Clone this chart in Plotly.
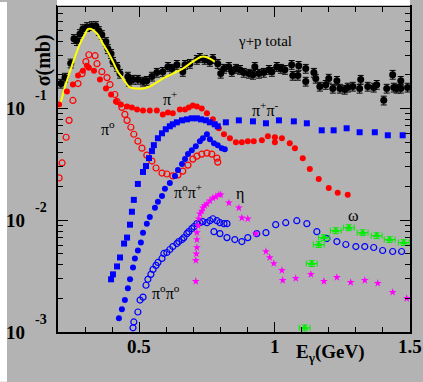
import plotly.graph_objects as go

# ---------------- data (E in GeV, sigma in mb) ----------------
tot_x = [0.211,0.226,0.247,0.259,0.270,0.281,0.292,0.307,0.325,0.340,0.351,0.362,0.377,0.384,0.396,0.403,
         0.418,0.429,0.458,0.462,0.477,0.495,0.514,0.528,0.547,0.565,0.587,0.606,0.621,0.639,0.661,0.669,
         0.687,0.713,0.724,0.742,0.761,0.772,0.790,0.801,0.813,0.831,0.842,0.857,0.872,0.886,0.905,0.920,
         0.927,0.942,0.960,0.979,0.990,1.008,1.023,1.038,1.063,1.067,1.086,1.089,1.115,1.115,1.145,1.152,
         1.167,1.189,1.200,1.215,1.230,1.241,1.259,1.270,1.289,1.314,1.318,1.344,1.366,1.377,1.403,1.414,
         1.436,1.440,1.451,1.466,1.466,1.491]
tot_y = [0.167,0.189,0.253,0.419,0.402,0.464,0.514,0.536,0.547,0.547,0.494,0.455,0.394,0.341,0.308,0.262,
         0.236,0.205,0.193,0.174,0.181,0.181,0.174,0.177,0.193,0.209,0.213,0.236,0.227,0.246,0.213,0.246,
         0.251,0.273,0.284,0.273,0.262,0.278,0.251,0.205,0.227,0.236,0.213,0.227,0.222,0.209,0.205,0.2005,
         0.236,0.205,0.209,0.222,0.213,0.236,0.227,0.222,0.246,0.1965,0.1965,0.241,0.227,0.174,0.209,0.185,
         0.157,0.163,0.185,0.1506,0.177,0.1506,0.1475,0.154,0.157,0.1506,0.181,0.157,0.154,0.163,0.118,0.1506,
         0.2005,0.154,0.1506,0.177,0.1506,0.154]

fit_x = [0.204,0.214,0.226,0.244,0.263,0.281,0.300,0.311,0.322,0.333,0.348,0.366,0.384,0.403,0.421,0.440,
         0.466,0.492,0.514,0.539,0.558,0.595,0.624,0.661,0.698,0.731,0.754,0.779]
fit_y = [0.100,0.1227,0.157,0.213,0.290,0.378,0.464,0.514,0.514,0.494,0.455,0.378,0.321,0.262,0.213,0.185,
         0.154,0.1506,0.1506,0.157,0.167,0.189,0.205,0.227,0.262,0.290,0.284,0.262]

pip_x = [0.204,0.233,0.255,0.274,0.292,0.307,0.314,0.333,0.355,0.377,0.396,0.414,0.432,0.455,0.473,0.492,
         0.514,0.539,0.565,0.587,0.606,0.624,0.650,0.669,0.683,0.698,0.713,0.731,0.750,0.772,0.794,0.813,
         0.835,0.857,0.879,0.901,0.923,0.953,0.975,1.001,1.001,1.027,1.056,1.075,1.104,1.130,1.163,1.200,
         1.233,1.270]
pip_y = [0.1086,0.1416,0.1634,0.1965,0.2177,0.241,0.2314,0.2177,0.181,0.1506,0.1332,0.1154,0.1086,0.1042,
         0.1021,0.098,0.096,0.096,0.096,0.0884,0.0921,0.0903,0.098,0.098,0.1021,0.1064,0.1042,0.100,0.0903,
         0.0798,0.0664,0.0587,0.0541,0.0499,0.0499,0.0509,0.0509,0.0519,0.0564,0.0552,0.0499,0.0541,0.0489,
         0.0441,0.0359,0.0287,0.0234,0.01945,0.01756,0.01685]

pi0_x = [0.204,0.215,0.230,0.241,0.255,0.274,0.289,0.303,0.314,0.337,0.344,0.362,0.381,0.392,0.410,0.418,
         0.436,0.447,0.455,0.469,0.480,0.495,0.510,0.528,0.547,0.562,0.584,0.602,0.624,0.643,0.661,0.680,
         0.698,0.713,0.731,0.750,0.768,0.787,0.790]
pi0_y = [0.0239,0.0325,0.0552,0.0782,0.1178,0.1668,0.2047,0.262,0.302,0.296,0.251,0.213,0.1886,0.1634,
         0.1332,0.1154,0.1021,0.0884,0.0782,0.0678,0.0587,0.0509,0.0441,0.0382,0.0338,0.0293,0.0264,0.0259,
         0.0249,0.0254,0.0275,0.0311,0.0352,0.0374,0.039,0.0398,0.039,0.0359,0.0331]

pipm_x = [0.396,0.403,0.418,0.429,0.444,0.455,0.466,0.473,0.480,0.495,0.514,0.525,0.536,0.547,0.554,0.569,
          0.584,0.598,0.613,0.624,0.639,0.658,0.676,0.694,0.713,0.728,0.746,0.761,0.779,0.790,0.820,0.868,
          0.920,0.968,1.016,1.071,1.119,1.174,1.218,1.266,1.314,1.370,1.418,1.473]
pipm_y = [0.00296,0.00328,0.00386,0.00464,0.00618,0.00699,0.00912,0.0119,0.0152,0.0211,0.0270,0.0305,
          0.0359,0.0415,0.0469,0.0541,0.0599,0.0651,0.0692,0.0721,0.0751,0.0782,0.0798,0.0815,0.0815,0.0798,
          0.0782,0.0751,0.0721,0.0692,0.0751,0.0782,0.0766,0.0736,0.0782,0.0766,0.0736,0.0637,0.0637,0.0664,
          0.0612,0.0612,0.0575,0.0575]

p0pp_x = [0.425,0.436,0.447,0.458,0.466,0.477,0.484,0.495,0.506,0.514,0.528,0.539,0.558,0.569,0.584,0.595,
          0.613,0.632,0.643,0.658,0.669,0.680,0.694,0.709,0.724,0.735,0.750,0.761,0.776,0.790,0.805,0.816]
p0pp_y = [0.00133,0.0016,0.00193,0.00246,0.00296,0.00378,0.00455,0.00536,0.00631,0.00774,0.00931,0.0107,
          0.0129,0.0146,0.0165,0.0191,0.0215,0.0249,0.0281,0.0318,0.0352,0.039,0.0423,0.0459,0.0509,0.0541,
          0.0587,0.053,0.0489,0.0469,0.0441,0.0432]

p0p0_x = [0.477,0.480,0.495,0.503,0.514,0.525,0.532,0.543,0.551,0.562,0.569,0.584,0.591,0.602,0.613,0.624,
          0.639,0.646,0.658,0.665,0.676,0.683,0.694,0.702,0.713,0.724,0.735,0.750,0.761,0.772,0.787,0.798,
          0.813,0.824,0.776,0.798,0.824,0.853,0.879,0.901,0.934,0.968,1.004,1.041,1.082,1.119,1.156,1.193,
          1.230,1.263,1.300,1.333,1.366,1.399,1.436,1.469]
p0p0_y = [0.00109,0.00123,0.00151,0.00193,0.00205,0.00262,0.00296,0.00328,0.00363,0.00394,0.00419,0.00455,
          0.00504,0.00514,0.00547,0.00581,0.00618,0.00644,0.00671,0.00699,0.00759,0.0079,0.0084,0.00875,
          0.00931,0.0095,0.0097,0.0095,0.0099,0.0103,0.0099,0.0095,0.00931,0.00931,0.0079,0.00759,0.00699,
          0.00671,0.00644,0.00699,0.00759,0.00774,0.00912,0.0095,0.0099,0.00931,0.0079,0.00685,0.00644,
          0.00606,0.00581,0.00581,0.0057,0.00536,0.00525,0.00525]

eta_x = [0.709,0.709,0.711,0.713,0.713,0.713,0.717,0.720,0.724,0.731,0.735,0.742,0.750,0.761,0.772,0.783,
         0.794,0.801,0.831,0.868,0.879,0.901,0.931,0.968,0.982,0.997,1.027,1.030,1.078,1.134,1.182,1.230,
         1.281,1.333,1.381,1.436,1.488]
eta_y = [0.00284,0.00437,0.0050,0.0057,0.00671,0.00774,0.00894,0.0103,0.0114,0.0121,0.0129,0.0135,0.014,
         0.0149,0.0158,0.0162,0.0169,0.0169,0.0143,0.0129,0.0105,0.0103,0.00759,0.00525,0.00464,0.0041,
         0.00356,0.0029,0.00302,0.00328,0.00284,0.00308,0.00278,0.0029,0.00273,0.00227,0.0020]

omg_x = [1.111,1.137,1.163,1.182,1.226,1.274,1.325,1.377,1.425,1.477]
omg_y = [0.00109,0.0041,0.00606,0.00699,0.00807,0.00858,0.00774,0.00728,0.00671,0.00631]

x_major = [0.5, 1.0, 1.5]
x_major_text = ["0.5", "1", "1.5"]
x_minor = [0.3, 0.4, 0.6, 0.7, 0.8, 0.9, 1.1, 1.2, 1.3, 1.4]
y_major = [0.001, 0.01, 0.1]
y_major_exp = ["-3", "-2", "-1"]
y_minor = [m * d for d in (0.001, 0.01, 0.1) for m in range(2, 10) if m * d < 0.81]

SERIF = "Liberation Serif"
BG = "#b3b3b3"

fig = go.Figure()
fig.add_trace(go.Scatter(x=tot_x, y=tot_y, mode="markers", name="γ+p total",
                         marker=dict(color="black", size=7, symbol="circle"),
                         error_y=dict(type="percent", value=9, color="black", thickness=1, width=3)))
fig.add_trace(go.Scatter(x=fit_x, y=fit_y, mode="lines", line=dict(color="#ffff00", width=2, shape="spline")))
fig.add_trace(go.Scatter(x=pip_x, y=pip_y, mode="markers",
                         marker=dict(color="#ff0000", size=6, symbol="circle")))
fig.add_trace(go.Scatter(x=pi0_x, y=pi0_y, mode="markers",
                         marker=dict(color="#ff0000", size=6, symbol="circle-open", line=dict(width=1.2))))
fig.add_trace(go.Scatter(x=pipm_x, y=pipm_y, mode="markers",
                         marker=dict(color="#0000ff", size=6, symbol="square")))
fig.add_trace(go.Scatter(x=p0pp_x, y=p0pp_y, mode="markers",
                         marker=dict(color="#0000ff", size=6, symbol="circle")))
fig.add_trace(go.Scatter(x=p0p0_x, y=p0p0_y, mode="markers",
                         marker=dict(color="#0000ff", size=6, symbol="circle-open", line=dict(width=1.2))))
fig.add_trace(go.Scatter(x=eta_x, y=eta_y, mode="markers",
                         marker=dict(color="#ff00ff", size=6, symbol="star")))
fig.add_trace(go.Scatter(x=omg_x, y=omg_y, mode="markers",
                         marker=dict(color="#00ee00", size=7, symbol="triangle-up"),
                         error_x=dict(type="constant", value=0.02, color="#00ee00", thickness=1, width=3),
                         error_y=dict(type="percent", value=6, color="#00ee00", thickness=1, width=3)))

ann = []
def lab(text, x, ly, size=16):
    ann.append(dict(text=text, x=x, y=ly, xref="x", yref="y", showarrow=False,
                    font=dict(family=SERIF, size=size, color="black")))

lab("γ+p total", 0.964, -0.396, 15)
lab("π<sup>+</sup>", 0.613, -0.911)
lab("π<sup>o</sup>", 0.385, -1.178)
lab("π<sup>+</sup>π<sup>-</sup>", 0.964, -1.009)
lab("π<sup>o</sup>π<sup>+</sup>", 0.68, -1.738)
lab("η", 0.872, -1.764)
lab("ω", 1.292, -1.96)
lab("π<sup>o</sup>π<sup>o</sup>", 0.598, -2.644)

# y tick labels 10^n
import math
for v, e in zip(y_major, y_major_exp):
    ly = math.log10(v)
    ann.append(dict(text="<b>10</b>", x=-0.088, y=ly, xref="paper", yref="y", xanchor="right",
                    yanchor="middle", showarrow=False, font=dict(family=SERIF, size=19, color="black")))
    ann.append(dict(text="<b>" + e + "</b>", x=-0.071, y=ly + 13 / 112.5, xref="paper", yref="y",
                    xanchor="left", yanchor="middle", showarrow=False,
                    font=dict(family=SERIF, size=14, color="black")))
for v, t in zip(x_major, x_major_text):
    ann.append(dict(text="<b>" + t + "</b>", x=v, y=-0.046, xref="x", yref="paper", yanchor="middle",
                    showarrow=False, font=dict(family=SERIF, size=19, color="black")))
ann.append(dict(text="<b>E<sub>γ</sub>(GeV)</b>", x=0.878, y=-0.107, xref="paper", yref="paper",
                showarrow=False, font=dict(family=SERIF, size=19, color="black")))
ann.append(dict(text="<b>σ(mb)</b>", x=-0.0795, y=0.9205, xref="paper", yref="paper", textangle=-90,
                showarrow=False, font=dict(family=SERIF, size=20, color="black")))

W, H, L, R, T, B = 423, 382, 58, 13, 5, 50
pw, ph = W - L - R, H - T - B
shapes = [
    dict(type="rect", xref="paper", yref="paper", x0=(0 - L) / pw, x1=(7 - L) / pw,
         y0=-B / ph, y1=(H - B) / ph, fillcolor="white", line=dict(width=0), layer="above"),
    dict(type="rect", xref="paper", yref="paper", x0=(57 - L) / pw, x1=1.0,
         y0=1.004, y1=(H - B) / ph + 0.01, fillcolor="white", line=dict(width=0), layer="above"),
]

fig.update_layout(
    width=W, height=H, margin=dict(l=L, r=R, t=T, b=B, pad=0),
    paper_bgcolor=BG, plot_bgcolor=BG, showlegend=False,
    annotations=ann, shapes=shapes,
    font=dict(family=SERIF),
    xaxis=dict(range=[0.2, 1.5], showgrid=False, zeroline=False, showline=True, linecolor="black",
               linewidth=1.5, mirror="allticks", ticks="inside", ticklen=10, tickcolor="black",
               tickvals=x_major, showticklabels=False,
               minor=dict(tickvals=x_minor, ticks="inside", ticklen=5, tickcolor="black", showgrid=False)),
    yaxis=dict(type="log", range=[-3, -0.093], showgrid=False, zeroline=False, showline=True,
               linecolor="black", linewidth=1.5, mirror="allticks", ticks="inside", ticklen=10,
               tickcolor="black", tickvals=y_major, showticklabels=False,
               minor=dict(tickvals=y_minor, ticks="inside", ticklen=5, tickcolor="black", showgrid=False)),
)

fig.write_html("out.html")
